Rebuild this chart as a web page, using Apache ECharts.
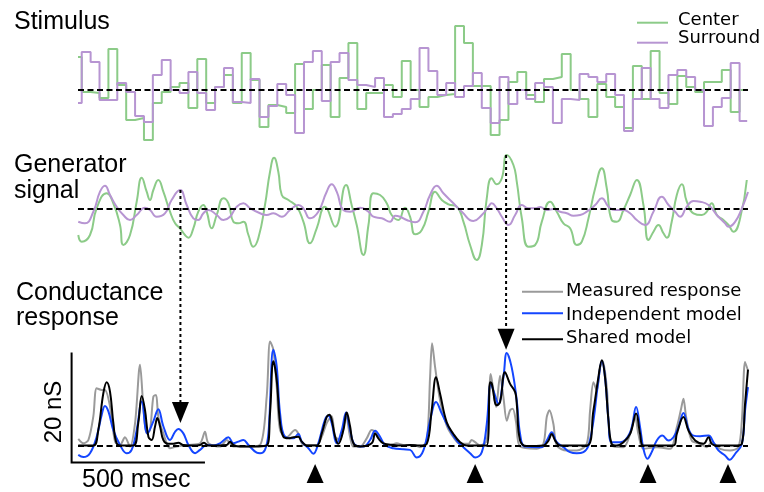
<!DOCTYPE html>
<html>
<head>
<meta charset="utf-8">
<script src="https://cdn.jsdelivr.net/npm/echarts@6/dist/echarts.min.js"></script>
<style>
  html, body { margin: 0; padding: 0; background: #fff; }
  #chart { width: 764px; height: 492px; }
</style>
</head>
<body>
<div id="chart"></div>
<script>
// time axis in msec, stimulus frames are 33.33 ms
const FRAME_MS = 33.33;
const FIRST_FRAME_MS = 14;
const END_MS = 2509;

// stimulus contrast per frame (a.u.)
const stimCenter = [33, -2, -3, -8, 41, 5, -30, -28, -50, -13, -2, 3, 7, -18, 31, -13, 3, 15, -13, 37, 10, -37, -15, -17, -23, 26, -19, 0, 25, -27, 12, 47, -19, -3, -3, 5, -7, 29, 0, -17, -7, -5, -4, 64, 47, 4, 4, -45, -30, 8, 18, -5, -12, 11, 13, 36, 0, -9, -27, 6, -7, -17, -38, 24, -9, 39, -3, -14, 14, 3, -2, 8, 8, 20, -22, 0];
const stimSurround = [-13, 38, 28, -10, -10, 7, -2, -26, -32, 15, 30, 0, -3, 18, -3, -20, 3, 22, -12, -13, 11, -27, -16, 6, -5, -43, 28, 39, -11, 28, 37, 10, 5, 3, 12, -27, -24, -19, -9, 42, 19, -5, 7, -7, 4, 17, -18, -33, 13, -14, 0, -9, 7, 3, -33, -9, -10, 16, 13, 8, 16, -5, -41, -9, 22, -9, -18, 15, 20, 13, 0, -36, -17, -8, 27, -31];

// generator signal [ms, a.u.]
const genCenter = [[1,-26],[14,-32.7],[45,-26],[70,0.7],[107.5,15.7],[132.5,5.7],[157.5,-16],[170,-36],[195,-26],[220,7.3],[239,31.3],[257.5,17.3],[270,9],[282.5,19],[301,29],[320,17.3],[345,-2.7],[364,-14.3],[382.5,-19.3],[401,-26],[414,-28.7],[432.5,-19.3],[451,-2.7],[470,4],[482.5,-2.7],[501,-19.3],[520,-6],[545,10.7],[564,5.7],[582.5,-12.7],[601,-14.3],[620,-12.7],[639,-26],[657.5,-37.7],[676,-29.3],[701,4],[720,37.3],[735,51.3],[751,37.3],[764,14],[789,9],[820,2.3],[845,-12.7],[870,-34.3],[895,-19.3],[926,2.3],[964,-17.7],[1005,24],[1026,4],[1045,-16],[1070,-46],[1089,-16],[1107.5,15.7],[1132.5,14],[1157.5,5.7],[1176,-6],[1201,-11],[1226,1.3],[1245,-7.7],[1264,-25.3],[1289,-21],[1314,-2.7],[1339,17.3],[1364,9],[1389,4.7],[1420,2.3],[1445,-12.7],[1470,-36],[1495,-51],[1514,-36],[1532.5,10.7],[1551,30.7],[1570,24.7],[1589,30.7],[1607.5,54],[1632.5,44],[1645,27.3],[1664,-9.3],[1689,-37.7],[1714,-36],[1739,-12.7],[1770,7.3],[1795,-2.7],[1820,-14.3],[1845,-19.3],[1870,-36],[1889,-32.7],[1914,-9.3],[1939,20.7],[1964,40.7],[1982.5,20.7],[2001,-11],[2020,-12.7],[2045,-1],[2070,14],[2095,29],[2120,4],[2139,-31],[2157.5,-22.7],[2176,-16],[2195,-24.3],[2207.5,-28.7],[2226,-12.7],[2245,14],[2264,24.7],[2282.5,7.3],[2307.5,-4.3],[2339,-6],[2357.5,-2.7],[2376,5.7],[2395,-6],[2420,-11],[2439,-16],[2457.5,-22.7],[2482.5,-9.3],[2507.5,29]];
const genSurround = [[1,-12.7],[26,-14.3],[57.5,-2.7],[82.5,17.3],[101,23.3],[120,14],[145,2.3],[170,-6],[195,-11],[220,-6],[251,1.3],[270,-1],[295,-7.7],[326,-4.3],[351,9],[382.5,19],[407.5,4],[432.5,-9.3],[451,-11],[470,-4.3],[489,-1],[520,-6],[545,-11],[570,-7.7],[595,2.3],[620,5.7],[645,0.7],[682.5,-4.3],[707.5,-6],[732.5,-4.3],[764,-7.7],[795,-1],[826,4],[845,0.7],[870,-9.3],[901,-2.7],[932.5,17.3],[951,24.7],[970,17.3],[995,-1],[1020,-2.7],[1057.5,1.3],[1089,-2.7],[1107.5,-7.7],[1139,-9.3],[1170,-12.7],[1189,-6.7],[1207.5,-7.7],[1232.5,-11],[1264,-13.3],[1295,-2.7],[1320,14],[1345,23.3],[1370,15.7],[1407.5,5.7],[1439,-2.7],[1482.5,-12],[1514,-6],[1539,2.3],[1551,5.7],[1570,0.7],[1589,-7.7],[1614,-16],[1639,-6],[1664,4],[1689,0.7],[1714,0.7],[1732.5,2],[1757.5,-1],[1782.5,0],[1807.5,-2.7],[1832.5,-4.3],[1857.5,-6.7],[1882.5,-6],[1907.5,-2.7],[1939,4],[1964,10.7],[1989,2.3],[2014,-1],[2045,-1],[2070,-4.3],[2095,-11],[2126,-16],[2157.5,-2.7],[2189,12.3],[2214,4],[2239,-2.7],[2257.5,-7.7],[2282.5,2.3],[2307.5,8],[2332.5,7.3],[2364,4],[2395,-6],[2426,-14.3],[2439,-17.7],[2464,-12.7],[2489,0.7],[2512,17]];

// conductance [ms, nS]
const respMeasured = [[1,1.2],[20,0.4],[39,1.0],[57.5,5.3],[70,10.4],[89,10.1],[101,10.1],[120,7.1],[139,0.7],[157.5,0.1],[176,1.5],[195,-0.2],[214,4.1],[232.5,14.7],[245,7.1],[257.5,2.2],[270,2.8],[282.5,8.9],[292.5,9.2],[301,5.3],[320,2.2],[345,-0.5],[370,-0.2],[407.5,0.1],[457.5,0.4],[476,2.5],[489,0.4],[532.5,-0.2],[557.5,1.0],[582.5,-0.2],[632.5,-0.2],[682.5,0.1],[707.5,8.9],[720,18.9],[732.5,17.4],[745,10.7],[757.5,2.8],[782.5,1.5],[814,2.8],[826,2.2],[845,0.1],[895,0.1],[914,1.6],[932.5,4.1],[951,5.3],[964,1.6],[982.5,1.0],[1005,5.3],[1020,1.6],[1032.5,-0.2],[1057.5,-0.2],[1082.5,1.3],[1101,2.8],[1120,2.2],[1145,0.4],[1170,0.1],[1195,0.4],[1220,0.1],[1257.5,0.1],[1282.5,-0.3],[1307.5,0.9],[1320,12.4],[1327.5,18.6],[1339,14.2],[1357.5,8.2],[1382.5,3.6],[1407.5,1.5],[1432.5,0.3],[1464,0.3],[1476,1.0],[1489,0.6],[1507.5,0],[1532.5,0.9],[1547.5,13.0],[1557.5,10.0],[1567.5,7.0],[1582.5,12.7],[1595,8.8],[1607.5,4.5],[1620,6.4],[1630,6.7],[1642.5,4.2],[1657.5,-0.2],[1720,-0.6],[1745,0.3],[1757.5,5.2],[1767.5,6.4],[1782.5,3.9],[1795,0],[1832.5,-0.9],[1870,-0.9],[1907.5,0.3],[1920,6.4],[1932.5,11.5],[1945,10.0],[1957.5,14.2],[1967.5,15.3],[1982.5,10.6],[2001,0],[2045,-0.3],[2070,2.1],[2089,5.2],[2101,2.1],[2120,-0.6],[2170,-0.3],[2220,-0.6],[2245,3.3],[2260,6.4],[2270,8.5],[2280,5.2],[2301,0.9],[2332.5,0.3],[2357.5,-0.3],[2376,0.6],[2407.5,-0.6],[2445,-0.9],[2476,-0.3],[2489,4.5],[2501,15.2],[2512,13.6]];
const respIndependent = [[1,-1.7],[20,-2.1],[45,-1.4],[70,1.6],[89,5.6],[101,7.2],[114,6.2],[132.5,2.8],[157.5,0.1],[182.5,-1.4],[201,-0.8],[220,2.8],[239,8.0],[260,2.2],[282.5,4.4],[301,6.6],[320,3.5],[345,1.0],[364,2.5],[376,3.0],[395,2.2],[414,0.1],[439,-1.4],[457.5,-0.8],[482.5,0.1],[507.5,0],[532.5,0.4],[564,1.5],[582.5,0.4],[601,0.7],[620,1.0],[639,0.1],[670,-1.3],[682.5,-1.4],[701,-0.8],[714,2.2],[732.5,17.4],[745,14.4],[757.5,5.9],[776,1.6],[807.5,1.3],[826,2.1],[839,0.7],[864,-0.5],[882.5,-1.5],[901,0.4],[926,4.7],[939,5.4],[951,4.1],[970,0.4],[989,2.8],[1005,6.0],[1020,2.8],[1039,0.1],[1070,-0.2],[1095,1.0],[1114,2.7],[1132.5,1.6],[1151,0.1],[1182.5,-0.5],[1220,-0.7],[1245,-0.8],[1270,-2.2],[1295,-0.9],[1320,4.5],[1342.5,7.9],[1364,5.8],[1389,3.3],[1420,0.9],[1445,-0.3],[1470,-1.4],[1489,-2.2],[1514,-1.2],[1532.5,3.9],[1547.5,11.2],[1557.5,10.0],[1576,7.6],[1595,12.4],[1607.5,16.8],[1626,14.2],[1645,8.2],[1657.5,2.1],[1676,-0.2],[1739,-0.3],[1757.5,0.9],[1776,2.4],[1795,0.6],[1820,-0.3],[1845,-1.2],[1870,-1.4],[1895,-1.2],[1914,0],[1932.5,4.5],[1951,11.8],[1964,15.3],[1976,12.4],[1989,4.5],[2001,0.6],[2032.5,0.6],[2070,2.4],[2092.5,7.0],[2107.5,3.3],[2120,-0.6],[2135,-2.4],[2151,-1.2],[2170,0.9],[2191,1.8],[2214,0.9],[2232.5,1.5],[2251,3.3],[2270,5.9],[2289,3.0],[2307.5,1.8],[2332.5,1.7],[2364,1.8],[2382.5,0.6],[2401,-0.9],[2426,-1.8],[2442.5,-2.6],[2464,-1.5],[2489,0.3],[2501,6.4],[2512,10.6]];
const respShared = [[1,0],[57.5,0],[76,2.8],[95,9.5],[107.5,11.5],[120,9.8],[132.5,4.1],[145,0.4],[164,0],[207.5,0],[226,4.1],[239,9.0],[251,6.5],[264,1.6],[276,1.0],[289,3.5],[297.5,5.0],[307.5,3.5],[320,1.0],[339,0.3],[357.5,0.3],[376,0.5],[395,0.1],[432.5,0],[457.5,0.1],[472.5,0.5],[489,0],[557.5,0.1],[570,0.7],[582.5,0.1],[607.5,-0.2],[707.5,0],[720,5.9],[732.5,15.3],[745,11.9],[757.5,4.1],[770,1.6],[789,1.3],[807.5,1.5],[826,1.6],[839,0.7],[857.5,0],[895,0],[914,2.2],[932.5,5.2],[942.5,5.6],[951,4.7],[964,1.6],[976,0.3],[995,2.8],[1007.5,6.0],[1020,3.5],[1032.5,0.4],[1057.5,-0.2],[1101,0.4],[1114,2.2],[1126,1.3],[1145,0.4],[1182.5,0.1],[1220,0],[1245,0.1],[1282.5,0],[1307.5,0.3],[1326,6.4],[1342.5,12.4],[1357.5,9.4],[1382.5,4.2],[1407.5,2.1],[1432.5,0.6],[1457.5,0],[1532.5,0],[1545,11.5],[1551,11.3],[1570,7.3],[1582.5,7.9],[1601,13.3],[1620,11.2],[1639,9.7],[1645,7.6],[1657.5,0.9],[1682.5,-0.1],[1745,0],[1764,0.9],[1776,2.1],[1789,0.9],[1807.5,0],[1907.5,0],[1932.5,6.4],[1951,12.4],[1964,15.5],[1976,12.4],[1989,4.5],[2001,0.3],[2020,0],[2045,0.6],[2070,2.1],[2092.5,5.8],[2107.5,2.1],[2120,0],[2232.5,0],[2245,2.1],[2270,5.2],[2289,2.7],[2314,0.9],[2345,0.3],[2364,1.5],[2376,0.3],[2395,0],[2470,0],[2489,0.3],[2501,7.6],[2512,13.8]];

// annotations
const arrowTimes = [384, 1605];
const arrowFromGen = [19, 54];
const arrowToResp = [4.1, 17.4];
const triangleTimes = [889, 1489, 2137, 2437];
const scaleBarMs = [-24, 476];
const scaleBarNs = [-3.1, 16.9];

const GREEN = "#8ccb88";
const PURPLE = "#b795d2";
const BLUE = "#1446ff";
const GRAY = "#9a9a9a";
const TITLE_FONT = '25px "Liberation Sans", Arial, sans-serif';
const LEGEND_FONT = '18px "DejaVu Sans", sans-serif';

function stimData(vals) {
  const d = vals.map((v, i) => [i === 0 ? 0 : FIRST_FRAME_MS + (i - 1) * FRAME_MS, v]);
  d.push([END_MS, vals[vals.length - 1]]);
  return d;
}

const zeroLine = {
  silent: true,
  symbol: "none",
  label: { show: false },
  lineStyle: { color: "#000", type: [6, 3.5], width: 2 },
  data: [{ yAxis: 0 }]
};

function text(x, y, str, font, opts) {
  return Object.assign({
    type: "text", x: x, y: y, z: 100,
    style: { text: str, font: font, fill: "#000", align: "left", verticalAlign: "middle" }
  }, opts || {});
}
function legendLine(x1, x2, y, color) {
  return { type: "line", z: 100, shape: { x1: x1, y1: y, x2: x2, y2: y }, style: { stroke: color, lineWidth: 2 } };
}

const labels = [
  text(14, 22.5, "Stimulus", TITLE_FONT),
  text(14, 165.5, "Generator", TITLE_FONT),
  text(14, 191, "signal", TITLE_FONT),
  text(16, 293, "Conductance", TITLE_FONT),
  text(16, 318, "response", TITLE_FONT),
  text(82, 480.5, "500 msec", '25px "Liberation Sans", Arial, sans-serif'),
  text(54, 412, "20 nS", "", { rotation: Math.PI / 2, style: { text: "20 nS", font: '24px "Liberation Sans", Arial, sans-serif', fill: "#000", align: "center", verticalAlign: "middle" } }),
  legendLine(637, 668, 22.7, GREEN),
  text(678, 20, "Center", LEGEND_FONT),
  legendLine(637, 668, 42.7, PURPLE),
  text(678, 38.3, "Surround", LEGEND_FONT),
  legendLine(522, 563, 291.7, GRAY),
  text(566, 291.8, "Measured response", LEGEND_FONT),
  legendLine(522, 563, 313.3, BLUE),
  text(566, 315.2, "Independent model", LEGEND_FONT),
  legendLine(522, 563, 339.3, "#000"),
  text(566, 338.5, "Shared model", LEGEND_FONT)
];

const xAxisBase = { type: "value", min: 0, max: 2512, show: false };
const yAxisBase = { type: "value", show: false, splitLine: { show: false } };

const option = {
  animation: false,
  backgroundColor: "#fff",
  grid: [
    { left: 78, width: 670, top: 20, height: 130 },
    { left: 78, width: 670, top: 150, height: 120 },
    { left: 78, width: 670, top: 335.5, height: 129.25 }
  ],
  xAxis: [
    Object.assign({ gridIndex: 0 }, xAxisBase),
    Object.assign({ gridIndex: 1 }, xAxisBase),
    Object.assign({ gridIndex: 2 }, xAxisBase)
  ],
  yAxis: [
    Object.assign({ gridIndex: 0, min: -60, max: 70 }, yAxisBase),
    Object.assign({ gridIndex: 1, min: -61, max: 59 }, yAxisBase),
    Object.assign({ gridIndex: 2, min: -3.5, max: 20 }, yAxisBase)
  ],
  series: [
    {
      name: "Center", type: "line", xAxisIndex: 0, yAxisIndex: 0, step: "end",
      showSymbol: false, data: stimData(stimCenter),
      lineStyle: { color: GREEN, width: 2 }
    },
    {
      name: "Surround", type: "line", xAxisIndex: 0, yAxisIndex: 0, step: "end",
      showSymbol: false, data: stimData(stimSurround),
      lineStyle: { color: PURPLE, width: 2 },
      markLine: zeroLine
    },
    {
      name: "Center gen", type: "line", xAxisIndex: 1, yAxisIndex: 1, smooth: 0.5,
      showSymbol: false, data: genCenter,
      lineStyle: { color: GREEN, width: 2 }
    },
    {
      name: "Surround gen", type: "line", xAxisIndex: 1, yAxisIndex: 1, smooth: 0.5,
      showSymbol: false, data: genSurround,
      lineStyle: { color: PURPLE, width: 2 },
      markLine: zeroLine
    },
    {
      name: "Measured response", type: "line", xAxisIndex: 2, yAxisIndex: 2, smooth: 0.3,
      showSymbol: false, data: respMeasured,
      lineStyle: { color: GRAY, width: 2 },
      markLine: zeroLine
    },
    {
      name: "Independent model", type: "line", xAxisIndex: 2, yAxisIndex: 2, smooth: 0.4,
      showSymbol: false, data: respIndependent,
      lineStyle: { color: BLUE, width: 2 }
    },
    {
      name: "Shared model", type: "line", xAxisIndex: 2, yAxisIndex: 2, smooth: 0.4,
      showSymbol: false, data: respShared,
      lineStyle: { color: "#000", width: 2 }
    },
    {
      name: "markers", type: "scatter", xAxisIndex: 2, yAxisIndex: 2, clip: false,
      symbol: "triangle", symbolSize: [17, 19], silent: true,
      data: triangleTimes.map(t => [t, -5.1]),
      itemStyle: { color: "#000", opacity: 1 }
    }
  ],
  graphic: labels
};

const chart = echarts.init(document.getElementById("chart"), null, { renderer: "canvas" });
chart.setOption(option);

const extra = [];
// scale bars (500 msec, 20 nS), placed through the response axes
const sbTop = chart.convertToPixel({ xAxisIndex: 2, yAxisIndex: 2 }, [scaleBarMs[0], scaleBarNs[1]]);
const sbCorner = chart.convertToPixel({ xAxisIndex: 2, yAxisIndex: 2 }, [scaleBarMs[0], scaleBarNs[0]]);
const sbRight = chart.convertToPixel({ xAxisIndex: 2, yAxisIndex: 2 }, [scaleBarMs[1], scaleBarNs[0]]);
extra.push({
  type: "polyline", z: 90,
  shape: { points: [sbTop, sbCorner, sbRight] },
  style: { stroke: "#000", lineWidth: 2, fill: null }
});

// dotted arrows from generator signal down to the response
arrowTimes.forEach((t, i) => {
  const top = chart.convertToPixel({ xAxisIndex: 1, yAxisIndex: 1 }, [t, arrowFromGen[i]]);
  const tip = chart.convertToPixel({ xAxisIndex: 2, yAxisIndex: 2 }, [t, arrowToResp[i]]);
  extra.push({
    type: "line", z: 90,
    shape: { x1: top[0], y1: top[1], x2: tip[0], y2: tip[1] - 20 },
    style: { stroke: "#000", lineWidth: 2, lineDash: [3, 3] }
  });
  extra.push({
    type: "polygon", z: 90,
    shape: { points: [[tip[0] - 8.5, tip[1] - 21], [tip[0] + 8.5, tip[1] - 21], [tip[0], tip[1]]] },
    style: { fill: "#000" }
  });
});
chart.setOption({ graphic: labels.concat(extra) });
</script>
</body>
</html>
